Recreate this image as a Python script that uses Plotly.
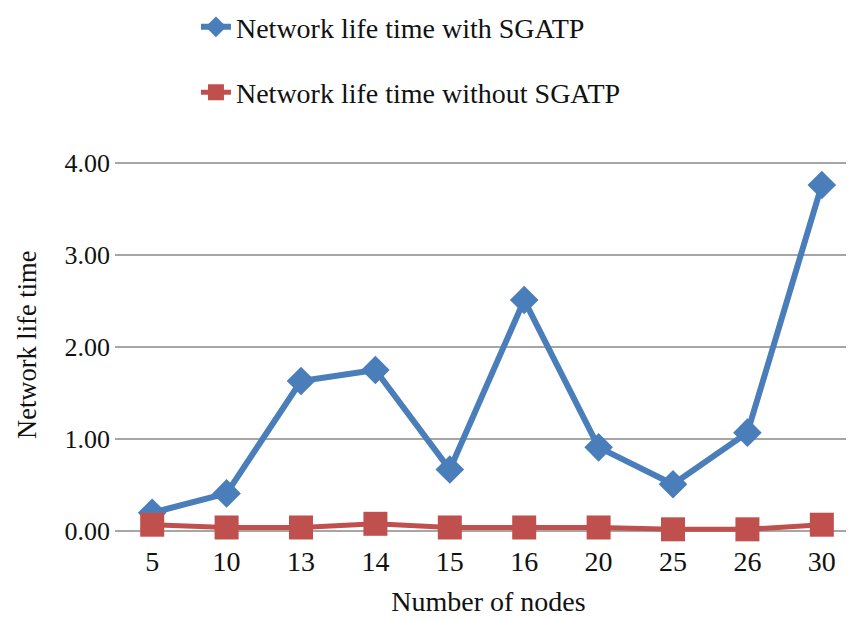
import plotly.graph_objects as go

categories = ["5", "10", "13", "14", "15", "16", "20", "25", "26", "30"]
with_sgatp = [0.20, 0.41, 1.63, 1.75, 0.67, 2.51, 0.91, 0.51, 1.07, 3.76]
without_sgatp = [0.07, 0.04, 0.04, 0.08, 0.04, 0.04, 0.04, 0.02, 0.02, 0.07]

BLUE = "#4A7EBB"
RED = "#C0504D"
FONT = "Liberation Serif, Times New Roman, serif"
FS = 28

fig = go.Figure()
fig.add_trace(go.Scatter(
    x=categories, y=with_sgatp, mode="lines+markers",
    name="Network life time with SGATP", legendgroup="a",
    line=dict(color=BLUE, width=6),
    marker=dict(symbol="diamond", size=22, color=BLUE),
    cliponaxis=False,
))
fig.add_trace(go.Scatter(
    x=categories, y=without_sgatp, mode="lines+markers",
    name="Network life time without SGATP", legendgroup="b",
    line=dict(color=RED, width=5),
    marker=dict(symbol="square", size=24, color=RED),
    cliponaxis=False,
))

fig.update_layout(
    width=854, height=619,
    margin=dict(l=107, r=0, t=153, b=94, autoexpand=False),
    paper_bgcolor="white", plot_bgcolor="white",
    font=dict(family=FONT, size=FS, color="#111111"),
    showlegend=True,
    legend=dict(
        xref="container", yref="paper",
        x=0.2201, y=1.427, xanchor="left", yanchor="top",
        font=dict(family=FONT, size=FS, color="#111111"),
        tracegroupgap=26, bgcolor="rgba(0,0,0,0)",
    ),
    xaxis=dict(
        type="category", range=[-0.5, 9.54],
        showgrid=False, zeroline=False, showline=False,
        ticks="", ticklabelstandoff=9, tickfont=dict(family=FONT, size=FS),
        title=dict(text="Number of nodes", font=dict(family=FONT, size=FS), standoff=15),
    ),
    yaxis=dict(
        range=[-0.02, 4.02], tickvals=[0, 1, 2, 3, 4],
        tickformat=".2f",
        showgrid=True, gridcolor="#a6a6a6", gridwidth=2,
        zeroline=False, showline=False,
        ticks="", ticklabelstandoff=4,
        tickfont=dict(family=FONT, size=26),
    ),
    annotations=[dict(
        text="Network life time", textangle=-90,
        xref="paper", yref="paper", x=-0.118, y=0.505,
        xanchor="center", yanchor="middle", showarrow=False,
        font=dict(family=FONT, size=26.5, color="#111111"),
    )],
)

fig.write_html("out.html")
